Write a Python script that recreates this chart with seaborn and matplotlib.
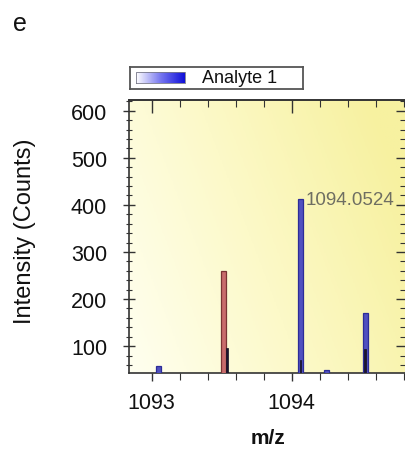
import numpy as np
import pandas as pd
import matplotlib
matplotlib.use("Agg")
import matplotlib.pyplot as plt
from matplotlib.ticker import MultipleLocator
from matplotlib.colors import LinearSegmentedColormap
import seaborn as sns

# ---- data ----
blue_mz = [1093.048, 1094.062, 1094.25, 1094.526]
blue_int = [57, 412, 50, 170]
red_mz = [1093.516]
red_int = [260]
inner_mz = [1093.535, 1094.062, 1094.526]
inner_int = [97, 71, 94]
x_ticks = [1093, 1094]
y_ticks = [100, 200, 300, 400, 500, 600]
peak_label = "1094.0524"
peak_x = 1094.062
peak_y = 412

sns.set_theme(style="white")
plt.rcParams['font.family'] = ['Liberation Sans', 'DejaVu Sans']

fig = plt.figure(figsize=(4.06, 4.52), dpi=100)
ax = fig.add_axes([129/406, 1-374/452, 1-129/406, (374-101)/452])

xmin, xmax = 1092.838, 1094.816
ymin, ymax = 43, 622.7

# background gradient
gx, gy = np.meshgrid(np.linspace(0, 1, 200), np.linspace(0, 1, 200))
g = np.clip(0.8*gx + 0.3*(1-gy), 0, 1)
cmap_bg = LinearSegmentedColormap.from_list("bg", ["#fffff0", "#fcf9c8", "#f7f1a0"])
ax.imshow(g, extent=[xmin, xmax, ymin, ymax], origin="upper", cmap=cmap_bg,
          aspect="auto", zorder=0)

def bars(xs, ys, color, edge, wpx, lw):
    df = pd.DataFrame({"mz": xs, "I": ys})
    if len(xs) > 1:
        md = np.min(np.diff(sorted(xs)))
    else:
        md = 1.0
    w = (wpx / 140.0) / md
    sns.barplot(data=df, x="mz", y="I", native_scale=True, width=w, color=color,
                saturation=1, edgecolor=edge, linewidth=lw, ax=ax, zorder=3,
                errorbar=None)

bars(blue_mz, blue_int, "#5050c0", "#2c2c98", 4.5, 0.9)
bars(red_mz, red_int, "#c86c6c", "#7a3434", 5.0, 0.9)
bars(inner_mz, inner_int, "#1c1430", "#141020", 1.8, 0.5)

ax.set_xlim(xmin, xmax)
ax.set_ylim(ymin, ymax)
ax.set_xticks(x_ticks)
ax.set_yticks(y_ticks)
ax.xaxis.set_minor_locator(MultipleLocator(0.2))
ax.yaxis.set_minor_locator(MultipleLocator(20))
ax.tick_params(axis="both", which="both", labelsize=15.5, labelcolor="#111111",
               colors="#333333")
ax.tick_params(axis="y", which="major", direction="inout", length=9, width=1,
               left=True, right=False, pad=11.3)
ax.tick_params(axis="y", which="minor", direction="inout", length=5, width=0.8,
               left=True, right=False)
ax.tick_params(axis="x", which="major", direction="out", length=6, width=1,
               bottom=True, top=False, pad=8)
ax.tick_params(axis="x", which="minor", direction="out", length=5, width=0.8,
               bottom=True, top=False)
for s in ax.spines.values():
    s.set_color("#333333")
    s.set_linewidth(1.2)
ax.grid(False)

# top / right inward ticks
secx = ax.secondary_xaxis("top")
secx.set_xticks(x_ticks)
secx.xaxis.set_minor_locator(MultipleLocator(0.2))
secx.tick_params(which="major", direction="in", length=9, width=1, labeltop=False,
                 colors="#333333")
secx.tick_params(which="minor", direction="in", length=5, width=0.8, colors="#333333")
secx.set_xticklabels([])
secx.spines["top"].set_linewidth(1.2)
secx.spines["top"].set_color("#333333")
secy = ax.secondary_yaxis("right")
secy.set_yticks(y_ticks)
secy.yaxis.set_minor_locator(MultipleLocator(20))
secy.tick_params(which="major", direction="in", length=7, width=1, colors="#333333")
secy.tick_params(which="minor", direction="in", length=4, width=0.8, colors="#333333")
secy.set_yticklabels([])

ax.set_xlabel("m/z", fontsize=15, fontweight="bold", color="#111111")
ax.xaxis.set_label_coords(0.5, (374-429)/273)
ax.set_ylabel("Intensity (Counts)", fontsize=17, color="#111111")
ax.yaxis.set_label_coords((36-129)/277, (374-231)/273)

ax.annotate(peak_label, xy=(peak_x, peak_y), xytext=(4, 0), textcoords="offset points",
            fontsize=13.5, color="#6e6e62", va="center", ha="left", zorder=5)

fig.text(20/406, 1-24/452, "e", fontsize=18, ha="center", va="center", color="#111111")

# legend box
lax = fig.add_axes([130/406, 1-90/452, 173/406, 22/452])
lax.set_xlim(0, 173)
lax.set_ylim(0, 22)
lax.set_xticks([])
lax.set_yticks([])
for s in lax.spines.values():
    s.set_color("#555555")
    s.set_linewidth(1.3)
lg = np.linspace(0, 1, 100).reshape(1, -1)
cmap_lg = LinearSegmentedColormap.from_list("lg", ["#ffffff", "#7878f0", "#1010d8"])
lax.imshow(lg, extent=[6, 55, 6, 17], cmap=cmap_lg, aspect="auto")
lax.plot([6, 55, 55, 6, 6], [6, 6, 17, 17, 6], color="#777788", lw=0.6)
lax.text(72, 11.5, "Analyte 1", fontsize=13, va="center", ha="left", color="#111111")

fig.savefig("out.png", dpi=100)
